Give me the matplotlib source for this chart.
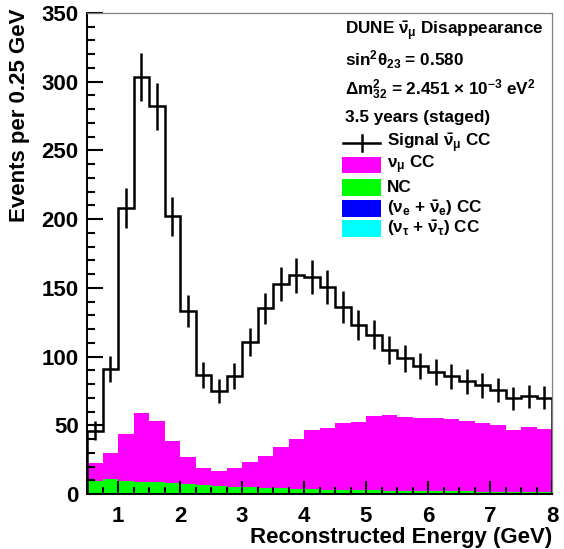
import numpy as np
import matplotlib.pyplot as plt
from matplotlib.patches import Rectangle
from matplotlib.lines import Line2D
from matplotlib.ticker import MultipleLocator

# ----------------------------
# Data (events per 0.25 GeV bin, 0.5 - 8 GeV)
# ----------------------------
BIN_EDGES = np.arange(0.5, 8.0001, 0.25)

signal_numubar_cc = [46, 91, 208, 303.7, 282, 202, 133, 86.4, 75.2, 85.9,
                     110.6, 135, 153, 159, 158, 150.4, 136, 123, 116, 105,
                     98.8, 93, 89, 85.5, 82, 79, 76, 69.6, 71, 70]
numu_cc = [12.8, 18.9, 34.3, 49.7, 44.5, 30.8, 19.7, 12.4, 11.2, 13.4,
           18.4, 23.0, 29.9, 36.1, 43.2, 45.1, 49.0, 49.8, 54.2, 55.0,
           53.7, 53.3, 52.9, 52.3, 51.5, 50.2, 48.3, 45.0, 47.5, 45.8]
nc = [8.8, 9.9, 8.9, 8.3, 7.8, 7.1, 6.3, 5.6, 5.0, 4.5,
      4.3, 3.8, 3.3, 3.0, 2.5, 2.3, 2.1, 2.0, 1.8, 1.7,
      1.5, 1.4, 1.4, 1.3, 1.2, 1.1, 1.0, 1.0, 0.9, 0.9]
nue_cc = [0.6, 0.7, 0.7, 0.6, 0.55, 0.5, 0.45, 0.4, 0.4, 0.35,
          0.35, 0.3, 0.3, 0.3, 0.3, 0.3, 0.3, 0.25, 0.25, 0.25,
          0.25, 0.25, 0.2, 0.2, 0.2, 0.2, 0.2, 0.2, 0.2, 0.2]
nutau_cc = [0.1, 0.1, 0.1, 0.1, 0.15, 0.2, 0.25, 0.3, 0.35, 0.4,
            0.45, 0.5, 0.5, 0.55, 0.55, 0.55, 0.55, 0.55, 0.55, 0.5,
            0.5, 0.5, 0.5, 0.5, 0.45, 0.45, 0.45, 0.4, 0.4, 0.4]

HEADER_LINES = [
    r"DUNE $\bar{\nu}_{\mu}$ Disappearance",
    r"sin$^{2}\theta_{23}$ = 0.580",
    r"$\Delta$m$^{2}_{32}$ = 2.451 $\times$ 10$^{-3}$ eV$^{2}$",
    "3.5 years (staged)",
]
ENTRY_LABELS = [r"Signal $\bar{\nu}_{\mu}$ CC", r"$\nu_{\mu}$ CC", "NC",
                r"($\nu_{e}$ + $\bar{\nu}_{e}$) CC",
                r"($\nu_{\tau}$ + $\bar{\nu}_{\tau}$) CC"]

# ----------------------------
# Look
# ----------------------------
W, H = 564, 549
DPI = 100
COL_NUMU = '#FF00FF'
COL_NC = '#00FF00'
COL_NUE = '#0000FF'
COL_NUTAU = '#00FFFF'
HIST_LW = 1.8
FONT_MAIN = 16
FONT_LEG = 12.3

plt.rcParams['font.family'] = ['Liberation Sans', 'DejaVu Sans']
plt.rcParams['font.weight'] = 'bold'
plt.rcParams['mathtext.default'] = 'regular'


def fx(x):
    return x / W


def fy(y):
    return 1 - y / H


fig = plt.figure(figsize=(W / DPI, H / DPI), dpi=DPI)
ax = fig.add_axes([fx(87), fy(494), fx(552) - fx(87), fy(13) - fy(494)])

# stacked backgrounds
layers = [(nutau_cc, COL_NUTAU), (nue_cc, COL_NUE), (nc, COL_NC), (numu_cc, COL_NUMU)]
base = np.zeros(len(signal_numubar_cc))
for vals, col in layers:
    top = base + np.asarray(vals)
    ax.stairs(top, BIN_EDGES, baseline=base, fill=True, color=col, lw=0)
    base = top

# signal
sig = np.asarray(signal_numubar_cc)
centers = 0.5 * (BIN_EDGES[:-1] + BIN_EDGES[1:])
ax.stairs(sig, BIN_EDGES, baseline=0, color='black', lw=HIST_LW)
ax.errorbar(centers, sig, yerr=np.sqrt(sig), fmt='none', ecolor='black',
            elinewidth=HIST_LW, capsize=0)

ax.set_xlim(0.5, 8)
ax.set_ylim(0, 350)
ax.xaxis.set_major_locator(MultipleLocator(1))
ax.xaxis.set_minor_locator(MultipleLocator(0.25))
ax.yaxis.set_major_locator(MultipleLocator(50))
ax.yaxis.set_minor_locator(MultipleLocator(10))
ax.tick_params(axis='both', which='both', direction='in', top=False, right=False,
               width=1.5, labelsize=FONT_MAIN)
ax.tick_params(axis='y', which='major', length=11.5, pad=6)
ax.tick_params(axis='y', which='minor', length=5.8)
ax.tick_params(axis='x', which='major', length=9.5, pad=9)
ax.tick_params(axis='x', which='minor', length=5)
for lab in ax.get_xticklabels() + ax.get_yticklabels():
    lab.set_fontweight('bold')
for s in ['left', 'bottom']:
    ax.spines[s].set_linewidth(1.4)
for s in ['top', 'right']:
    ax.spines[s].set_linewidth(0.9)
    ax.spines[s].set_color('#808080')

fig.text(fx(20), fy(8), "Events per 0.25 GeV", rotation=90, ha='center', va='top',
         fontsize=FONT_MAIN, fontweight='bold')
fig.text(fx(552), fy(537), "Reconstructed Energy (GeV)", ha='right', va='center',
         fontsize=FONT_MAIN, fontweight='bold')

# legend, drawn by hand
for txt, yc in zip(HEADER_LINES, [31, 60, 90, 118]):
    fig.text(fx(345), fy(yc), txt, ha='left', va='center', fontsize=FONT_LEG,
             fontweight='bold')

entry_y = [143, 165, 187, 208, 228]
fig.add_artist(Line2D([fx(343), fx(380)], [fy(143), fy(143)], color='black',
                      lw=HIST_LW, transform=fig.transFigure))
fig.add_artist(Line2D([fx(362), fx(362)], [fy(135), fy(151)], color='black',
                      lw=HIST_LW, transform=fig.transFigure))
for yc, col in zip(entry_y[1:], [COL_NUMU, COL_NC, COL_NUE, COL_NUTAU]):
    fig.add_artist(Rectangle((fx(342), fy(yc + 8.5)), fx(381) - fx(342),
                             fy(yc - 8.5) - fy(yc + 8.5), facecolor=col,
                             edgecolor='none', transform=fig.transFigure))
for txt, yc in zip(ENTRY_LABELS, entry_y):
    fig.text(fx(387), fy(yc), txt, ha='left', va='center', fontsize=FONT_LEG,
             fontweight='bold')

fig.savefig('out.png', dpi=DPI)
